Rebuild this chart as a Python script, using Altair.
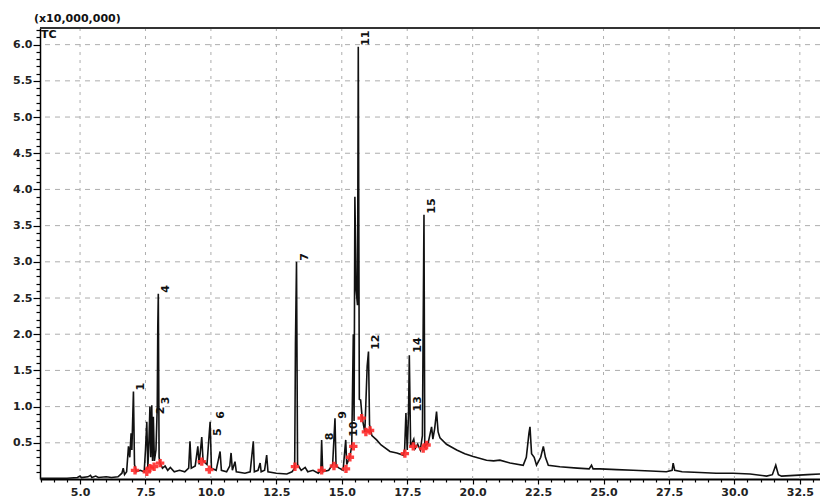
import altair as alt
import pandas as pd

# ---- chromatogram trace (retention time, min ; intensity, x10,000,000) ----
rt = [3.47, 4.0, 4.5, 4.9, 5.0, 5.05, 5.3, 5.4, 5.45, 5.6, 5.7, 6.0, 6.2, 6.45, 6.6, 6.65, 6.7, 6.78,
      6.85, 6.9, 6.95, 6.98, 7.04, 7.08, 7.15, 7.3, 7.45, 7.5, 7.55, 7.59, 7.63, 7.67, 7.70, 7.74,
      7.77, 7.80, 7.84, 7.90, 7.95, 7.97, 7.99, 8.02, 8.06, 8.15, 8.25, 8.35, 8.45, 8.6, 8.8, 9.0,
      9.15, 9.2, 9.25, 9.4, 9.5, 9.55, 9.65, 9.7, 9.85, 9.92, 9.97, 10.02, 10.2, 10.35, 10.4, 10.6,
      10.72, 10.77, 10.82, 10.92, 10.97, 11.3, 11.5, 11.62, 11.66, 11.8, 11.88, 11.92, 12.05, 12.13,
      12.18, 12.5, 12.9, 13.1, 13.2, 13.23, 13.27, 13.31, 13.45, 13.6, 13.7, 13.9, 14.1, 14.2, 14.23,
      14.27, 14.5, 14.65, 14.74, 14.78, 14.9, 15.05, 15.15, 15.19, 15.3, 15.38, 15.44, 15.47, 15.5,
      15.55, 15.6, 15.63, 15.67, 15.72, 15.78, 15.88, 15.97, 16.02, 16.06, 16.15, 16.33, 16.5, 16.84,
      17.1, 17.35, 17.40, 17.45, 17.5, 17.55, 17.58, 17.63, 17.75, 17.8, 17.9, 18.0, 18.08, 18.11,
      18.14, 18.17, 18.3, 18.43, 18.48, 18.55, 18.62, 18.68, 18.75, 19.0, 19.39, 19.7, 20.02, 20.53,
      20.8, 21.04, 21.43, 21.93, 22.05, 22.15, 22.19, 22.25, 22.35, 22.44, 22.6, 22.7, 22.78, 22.89,
      23.33, 24.0, 24.45, 24.54, 24.6, 24.86, 25.5, 26.13, 26.8, 27.4, 27.62, 27.66, 27.72, 28.0,
      28.68, 29.3, 29.95, 30.6, 31.23, 31.45, 31.58, 31.68, 31.8, 32.3, 32.8, 33.27]
signal = [0.01, 0.01, 0.01, 0.02, 0.04, 0.02, 0.03, 0.05, 0.02, 0.04, 0.02, 0.03, 0.02, 0.03, 0.08, 0.15, 0.06, 0.10,
          0.45, 0.30, 0.63, 0.40, 1.21, 0.20, 0.10, 0.12, 0.10, 0.40, 0.79, 0.15, 0.50, 1.00, 0.30, 1.02,
          0.25, 0.86, 0.25, 0.40, 1.00, 2.10, 2.56, 0.30, 0.22, 0.15, 0.18, 0.12, 0.16, 0.10, 0.12, 0.10,
          0.15, 0.52, 0.15, 0.18, 0.45, 0.20, 0.58, 0.25, 0.20, 0.55, 0.79, 0.15, 0.12, 0.38, 0.12, 0.10,
          0.18, 0.36, 0.12, 0.24, 0.10, 0.08, 0.10, 0.52, 0.10, 0.12, 0.22, 0.10, 0.12, 0.33,
          0.10, 0.08, 0.07, 0.10, 0.15, 1.88, 3.00, 0.20, 0.12, 0.16, 0.10, 0.12, 0.08, 0.12, 0.54,
          0.10, 0.12, 0.20, 0.84, 0.18, 0.15, 0.12, 0.54, 0.20, 0.30, 0.45, 2.00, 0.80, 3.90,
          2.60, 2.40, 5.97, 1.10, 1.09, 0.84, 0.65, 1.56, 1.76, 0.75, 0.60, 0.54, 0.47, 0.38,
          0.36, 0.33, 0.40, 0.91, 0.40, 0.90, 1.71, 0.45, 0.55, 0.42, 0.48, 0.40, 0.60, 2.15,
          3.65, 0.45, 0.50, 0.72, 0.55, 0.70, 0.93, 0.65, 0.57, 0.48, 0.40, 0.35, 0.31, 0.26,
          0.25, 0.26, 0.22, 0.19, 0.30, 0.63, 0.72, 0.35, 0.30, 0.19, 0.30, 0.45, 0.30, 0.19,
          0.17, 0.15, 0.14, 0.19, 0.14, 0.14, 0.13, 0.12, 0.11, 0.10, 0.12, 0.22, 0.12, 0.10,
          0.09, 0.08, 0.08, 0.07, 0.04, 0.06, 0.19, 0.06, 0.04, 0.05, 0.06, 0.07]

# ---- integration marks (red crosses) ----
mark_rt = [7.10, 7.55, 7.67, 7.83, 8.06, 9.65, 9.94, 13.21, 14.23, 14.70, 15.16, 15.31, 15.44,
           15.76, 15.92, 16.08, 17.41, 17.73, 18.11, 18.24]
mark_sig = [0.12, 0.10, 0.15, 0.17, 0.22, 0.24, 0.13, 0.17, 0.12, 0.18, 0.14, 0.30, 0.45,
            0.84, 0.65, 0.67, 0.35, 0.45, 0.42, 0.47]

# ---- peak numbers ----
peak_ids = ["1", "2", "3", "4", "5", "6", "7", "8", "9", "10", "11", "12", "13", "14", "15"]
peak_rt = [7.04, 7.80, 7.99, 7.99, 9.97, 10.08, 13.27, 14.23, 14.74, 15.15, 15.63, 16.02, 17.60, 17.60, 18.14]
peak_sig = [1.21, 0.88, 1.02, 2.56, 0.58, 0.82, 3.00, 0.52, 0.82, 0.57, 5.97, 1.77, 0.92, 1.73, 3.65]

# ---- axes ----
x_ticks = [3.5 + 0.5 * i for i in range(60)]
y_ticks = [round(0.1 * i, 1) for i in range(1, 63)]
x_grid = [5.0, 7.5, 10.0, 12.5, 15.0, 17.5, 20.0, 22.5, 25.0, 27.5, 30.0, 32.5]
y_grid = [0.5, 1.0, 1.5, 2.0, 2.5, 3.0, 3.5, 4.0, 4.5, 5.0, 5.5, 6.0]

X_DOMAIN = [3.47, 33.27]
Y_DOMAIN = [0, 6.23]
W, H = 780, 451
FONT = "DejaVu Sans"

trace = pd.DataFrame({"rt": rt, "signal": signal})
marks = pd.DataFrame({"rt": mark_rt, "signal": mark_sig})
peaks = pd.DataFrame({"label": peak_ids, "rt": peak_rt, "signal": peak_sig})
xg = pd.DataFrame({"rt": x_grid})
yg = pd.DataFrame({"signal": y_grid})

xscale = alt.Scale(domain=X_DOMAIN, nice=False, zero=False)
yscale = alt.Scale(domain=Y_DOMAIN, nice=False, zero=False)

x_axis = alt.Axis(values=x_ticks, grid=False, domainColor="#000", domainWidth=2,
                  tickColor="#000", tickWidth=1.2,
                  tickSize={"condition": {"test": "datum.value % 2.5 === 0", "value": 5}, "value": 3},
                  labelExpr="datum.value % 2.5 === 0 ? format(datum.value, '.1f') : ''",
                  labelOverlap=False, labelFlush=False, labelFont=FONT, labelFontSize=11,
                  labelFontWeight="bold", labelColor="#222", labelPadding=2)
y_axis = alt.Axis(values=y_ticks, grid=False, domainColor="#000", domainWidth=1.5,
                  tickColor="#000", tickWidth=1.2,
                  tickSize={"condition": {"test": "abs(round(datum.value*10) % 5) == 0", "value": 7}, "value": 4},
                  labelExpr="abs(round(datum.value*10) % 5) == 0 ? format(datum.value, '.1f') : ''",
                  labelOverlap=False, labelFlush=False, labelFont=FONT, labelFontSize=11,
                  labelFontWeight="bold", labelColor="#222", labelPadding=1)

X = alt.X("rt:Q", scale=xscale, title=None, axis=x_axis)
Y = alt.Y("signal:Q", scale=yscale, title=None, axis=y_axis)

grid_x = alt.Chart(xg).mark_rule(color="#adadad", strokeWidth=1, strokeDash=[3, 5]).encode(x=X)
grid_y = alt.Chart(yg).mark_rule(color="#adadad", strokeWidth=1, strokeDash=[5, 5]).encode(y=Y)

line = alt.Chart(trace).mark_line(color="#111111", strokeWidth=1.6, interpolate="linear").encode(x=X, y=Y)

crosses = alt.Chart(marks).mark_point(shape="cross", filled=True, color="#ff2a2a", size=70, opacity=0.9).encode(
    x=X, y=Y)

labels = alt.Chart(peaks).mark_text(angle=270, align="left", baseline="top", dx=1, dy=2,
                                    font=FONT, fontSize=11, fontWeight="bold", color="#111").encode(
    x=X, y=Y, text="label:N")

top_frame = alt.Chart(pd.DataFrame({"k": [0]})).mark_rule(color="#333", strokeWidth=2).encode(
    x=alt.value(0), x2=alt.value(W), y=alt.value(0))

unit_text = alt.Chart(pd.DataFrame({"t": ["(x10,000,000)"]})).mark_text(
    align="left", baseline="middle", font=FONT, fontSize=11, fontWeight="bold", color="#111").encode(
    x=alt.value(-6), y=alt.value(-9), text="t:N")

tc_text = alt.Chart(pd.DataFrame({"t": ["TC"]})).mark_text(
    align="left", baseline="top", font=FONT, fontSize=11, fontWeight="bold", color="#111").encode(
    x=alt.value(1), y=alt.value(1), text="t:N")

chart = alt.layer(grid_x, grid_y, line, crosses, labels, top_frame, unit_text, tc_text).properties(
    width=W, height=H, autosize="none",
    padding={"left": 32, "top": 20, "right": 0, "bottom": 19},
    background="white",
).configure_view(stroke=None)

chart.save("out.html", embed_options={"renderer": "svg", "actions": False})
